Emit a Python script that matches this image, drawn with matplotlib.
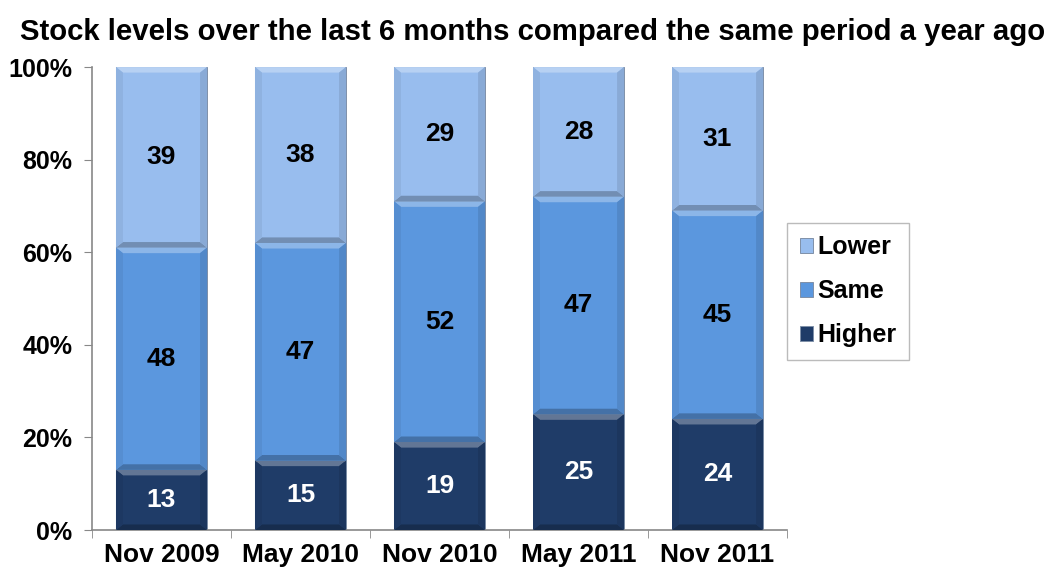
import numpy as np
import matplotlib.pyplot as plt
from matplotlib.patches import Polygon

plt.rcParams['font.family'] = ['Liberation Sans', 'DejaVu Sans']

periods = ['Nov 2009', 'May 2010', 'Nov 2010', 'May 2011', 'Nov 2011']
higher = [13, 15, 19, 25, 24]
same = [48, 47, 52, 47, 45]
lower = [39, 38, 29, 28, 31]

series = [('Higher', higher, '#1f3c68', 'white'),
          ('Same', same, '#5b97de', 'black'),
          ('Lower', lower, '#98bdee', 'black')]


def shade(c, f):
    c = np.array(plt.matplotlib.colors.to_rgb(c))
    if f > 0:
        return tuple(c + (1 - c) * f)
    return tuple(c * (1 + f))


def bevel(ax, rect, color, dx=0.05, dy=1.2):
    # soft bevel: light top edge, dark bottom edge, slightly darker sides
    x0, y0 = rect.get_x(), rect.get_y()
    x1, y1 = x0 + rect.get_width(), y0 + rect.get_height()
    faces = [
        ([(x0, y1), (x1, y1), (x1 - dx, y1 - dy), (x0 + dx, y1 - dy)], shade(color, 0.3)),
        ([(x0, y0), (x1, y0), (x1 - dx, y0 + dy), (x0 + dx, y0 + dy)], shade(color, -0.25)),
        ([(x0, y0), (x0 + dx, y0 + dy), (x0 + dx, y1 - dy), (x0, y1)], shade(color, -0.06)),
        ([(x1, y0), (x1 - dx, y0 + dy), (x1 - dx, y1 - dy), (x1, y1)], shade(color, -0.1)),
    ]
    for pts, fc in faces:
        ax.add_patch(Polygon(pts, closed=True, facecolor=fc, edgecolor='none', zorder=3))


fig = plt.figure(figsize=(10.55, 5.73), dpi=100)
ax = fig.add_axes([0.0872, 0.075, 0.6588, 0.808])

x = np.arange(len(periods))
bottom = np.zeros(len(periods))
handles = []
for name, vals, color, tcolor in series:
    bars = ax.bar(x, vals, width=0.655, bottom=bottom, color=color,
                  edgecolor='#7f90a8', linewidth=0.7, zorder=2, label=name)
    for rect in bars:
        bevel(ax, rect, color)
    for xi, b, v in zip(x, bottom, vals):
        ax.text(xi, b + v / 2, str(v), ha='center', va='center',
                fontsize=19, fontweight='bold', color=tcolor, zorder=4)
    handles.append(bars)
    bottom = bottom + np.array(vals)

ax.set_xlim(-0.5, len(periods) - 0.5)
ax.set_ylim(0, 100)
ax.set_yticks(np.arange(0, 101, 20))
ax.set_yticklabels([f'{v}%' for v in range(0, 101, 20)])
ax.set_xticks(x)
ax.set_xticklabels(periods)
ax.set_xticks(np.arange(-0.5, len(periods)), minor=True)
ax.tick_params(axis='x', which='major', length=0, pad=9)
ax.tick_params(axis='x', which='minor', length=6, color='#888888', direction='out')
ax.tick_params(axis='y', length=6, color='#888888', direction='out', pad=8)
for lab in ax.get_xticklabels():
    lab.set_fontsize(19)
    lab.set_fontweight('bold')
for lab in ax.get_yticklabels():
    lab.set_fontsize(18)
    lab.set_fontweight('bold')

for side in ['top', 'right']:
    ax.spines[side].set_visible(False)
for side in ['left', 'bottom']:
    ax.spines[side].set_color('#888888')
    ax.spines[side].set_linewidth(1.2)

leg = ax.legend(handles[::-1], [s[0] for s in series][::-1],
                loc='center left', bbox_to_anchor=(1.0, 0.516),
                prop={'size': 18, 'weight': 'bold'}, frameon=True,
                fancybox=False, edgecolor='#aaaaaa', handlelength=0.55,
                handleheight=0.55, handletextpad=0.15, labelspacing=0.8,
                borderpad=0.5, borderaxespad=0)
leg.get_frame().set_linewidth(1.0)

fig.text(0.505, 0.945, 'Stock levels over the last 6 months compared the same period a year ago',
         ha='center', va='center', fontsize=21.2, fontweight='bold')

fig.savefig('out.png', dpi=100)
